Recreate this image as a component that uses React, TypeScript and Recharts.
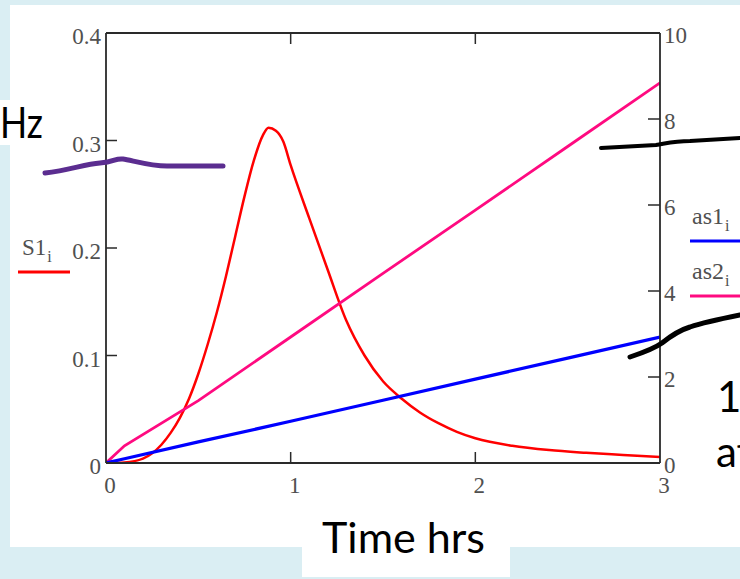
import React from 'react';
import { LineChart, Line, XAxis, YAxis } from 'recharts';

// ---- data ----
const S1_TIME = [0, 0.1, 0.2, 0.25, 0.3, 0.35, 0.4, 0.45, 0.5, 0.55, 0.6, 0.65, 0.7, 0.75, 0.8, 0.85, 0.88, 0.92, 0.96, 1.0, 1.1, 1.2, 1.3, 1.4, 1.5, 1.6, 1.7, 1.8, 1.9, 2.0, 2.2, 2.4, 2.6, 2.8, 3.0];
const S1_VALUES = [0, 0.0005, 0.004, 0.009, 0.017, 0.028, 0.042, 0.06, 0.083, 0.11, 0.14, 0.174, 0.211, 0.248, 0.281, 0.305, 0.3118, 0.309, 0.299, 0.277, 0.228, 0.18, 0.133, 0.1, 0.076, 0.06, 0.047, 0.037, 0.029, 0.023, 0.016, 0.012, 0.0095, 0.0075, 0.0055];

const AS_TIME = [0, 0.1, 0.5, 1.0, 1.5, 2.0, 2.5, 3.0];
const AS1_VALUES = [0, 0.1, 0.49, 0.97, 1.46, 1.95, 2.44, 2.93];
const AS2_VALUES = [0, 0.4, 1.45, 2.93, 4.41, 5.88, 7.36, 8.84];

const X_TICKS = [0, 1, 2, 3];
const LEFT_TICKS = [0, 0.1, 0.2, 0.3, 0.4];
const RIGHT_TICKS = [0, 2, 4, 6, 8, 10];

const X_LABEL = 'Time hrs';
const LEFT_LEGEND = 'S1';
const RIGHT_LEGEND_1 = 'as1';
const RIGHT_LEGEND_2 = 'as2';
const SUBSCRIPT = 'i';

const s1Data = S1_TIME.map((t, i) => ({ t, v: S1_VALUES[i] }));
const as1Data = AS_TIME.map((t, i) => ({ t, v: AS1_VALUES[i] }));
const as2Data = AS_TIME.map((t, i) => ({ t, v: AS2_VALUES[i] }));

// ---- styles ----
const SERIF = '"Liberation Serif", "Times New Roman", serif';
const SANS = 'Lato, "Open Sans", sans-serif';
const LABEL_COLOR = '#505050';
const AXIS_COLOR = '#2a2a2a';
const RED = '#ff0000';
const BLUE = '#0000ff';
const PINK = '#ff0a80';
const TICK_FS = 23;

const isEnd = (v: number, arr: number[]) => v === arr[0] || v === arr[arr.length - 1];

const LeftTick = (props: any) => {
  const { x, y, payload } = props;
  const v = payload.value;
  return (
    <g>
      {!isEnd(v, LEFT_TICKS) && <line x1={x} x2={x + 11} y1={y} y2={y} stroke={AXIS_COLOR} strokeWidth={1.5} />}
      <text x={x - 5} y={y + 11} textAnchor="end" fontFamily={SERIF} fontSize={TICK_FS} fill={LABEL_COLOR}>{String(v)}</text>
    </g>
  );
};

const RightTick = (props: any) => {
  const { x, y, payload } = props;
  const v = payload.value;
  return (
    <g>
      {!isEnd(v, RIGHT_TICKS) && <line x1={x - 12} x2={x} y1={y} y2={y} stroke={AXIS_COLOR} strokeWidth={1.5} />}
      <text x={x + 4} y={y + 10} textAnchor="start" fontFamily={SERIF} fontSize={TICK_FS} fill={LABEL_COLOR}>{String(v)}</text>
    </g>
  );
};

const BottomTick = (props: any) => {
  const { x, y, payload } = props;
  const v = payload.value;
  return (
    <g>
      {!isEnd(v, X_TICKS) && <line x1={x} x2={x} y1={y} y2={y - 11} stroke={AXIS_COLOR} strokeWidth={1.5} />}
      <text x={x + 4} y={y + 30} textAnchor="middle" fontFamily={SERIF} fontSize={TICK_FS} fill={LABEL_COLOR}>{String(v)}</text>
    </g>
  );
};

const TopTick = (props: any) => {
  const { x, y, payload } = props;
  const v = payload.value;
  return (
    <g>
      {!isEnd(v, X_TICKS) && <line x1={x} x2={x} y1={y} y2={y + 11} stroke={AXIS_COLOR} strokeWidth={1.5} />}
    </g>
  );
};

export default function App() {
  return (
    <div style={{ position: 'absolute', left: 0, top: 0, width: 740, height: 579, background: '#daeef3', overflow: 'hidden' }}>
      <div style={{ position: 'absolute', left: 10, top: 5, width: 730, height: 542, background: '#ffffff' }} />
      <div style={{ position: 'absolute', left: 302, top: 547, width: 208, height: 30, background: '#ffffff' }} />
      <div style={{ position: 'absolute', left: 0, top: 100, width: 46, height: 45, background: '#ffffff' }} />
      <div style={{ position: 'absolute', left: 0, top: 0 }}>
        <LineChart width={740} height={579} margin={{ top: 32, right: 0, bottom: 76, left: 0 }}>
          <XAxis
            xAxisId="b"
            dataKey="t"
            type="number"
            domain={[0, 3]}
            ticks={X_TICKS}
            allowDataOverflow
            height={40}
            tickSize={0}
            tickMargin={0}
            tickLine={false}
            axisLine={{ stroke: AXIS_COLOR, strokeWidth: 1.8 }}
            tick={<BottomTick />}
            interval={0}
          />
          <XAxis
            xAxisId="top"
            orientation="top"
            dataKey="t"
            type="number"
            domain={[0, 3]}
            ticks={X_TICKS}
            allowDataOverflow
            height={1}
            tickSize={0}
            tickMargin={0}
            tickLine={false}
            axisLine={{ stroke: AXIS_COLOR, strokeWidth: 1.8 }}
            tick={<TopTick />}
            interval={0}
          />
          <YAxis
            yAxisId="l"
            width={106}
            type="number"
            domain={[0, 0.4]}
            ticks={LEFT_TICKS}
            allowDataOverflow
            tickSize={0}
            tickMargin={0}
            tickLine={false}
            axisLine={{ stroke: AXIS_COLOR, strokeWidth: 1.8 }}
            tick={<LeftTick />}
            interval={0}
          />
          <YAxis
            yAxisId="r"
            orientation="right"
            width={80}
            type="number"
            domain={[0, 10]}
            ticks={RIGHT_TICKS}
            allowDataOverflow
            tickSize={0}
            tickMargin={0}
            tickLine={false}
            axisLine={{ stroke: AXIS_COLOR, strokeWidth: 1.8 }}
            tick={<RightTick />}
            interval={0}
          />
          <Line xAxisId="b" yAxisId="l" data={s1Data} dataKey="v" type="monotone" stroke={RED} strokeWidth={2.5} dot={false} isAnimationActive={false} />
          <Line xAxisId="b" yAxisId="r" data={as2Data} dataKey="v" type="linear" stroke={PINK} strokeWidth={2.8} dot={false} isAnimationActive={false} />
          <Line xAxisId="b" yAxisId="r" data={as1Data} dataKey="v" type="linear" stroke={BLUE} strokeWidth={3.2} dot={false} isAnimationActive={false} />
        </LineChart>
      </div>
      <svg width={740} height={579} style={{ position: 'absolute', left: 0, top: 0, pointerEvents: 'none' }}>
        {/* legend, left */}
        <text x={22} y={255} fontFamily={SERIF} fontSize={23} fill={LABEL_COLOR}>
          {LEFT_LEGEND}
          <tspan dx={1} dy={7} fontSize={16}>{SUBSCRIPT}</tspan>
        </text>
        <line x1={18} x2={70} y1={272} y2={272} stroke={RED} strokeWidth={3} />
        {/* legend, right */}
        <text x={692} y={224} fontFamily={SERIF} fontSize={24} fill={LABEL_COLOR}>
          {RIGHT_LEGEND_1}
          <tspan dx={1} dy={7} fontSize={16}>{SUBSCRIPT}</tspan>
        </text>
        <line x1={690} x2={740} y1={241} y2={241} stroke={BLUE} strokeWidth={3} />
        <text x={692} y={279} fontFamily={SERIF} fontSize={24} fill={LABEL_COLOR}>
          {RIGHT_LEGEND_2}
          <tspan dx={1} dy={7} fontSize={16}>{SUBSCRIPT}</tspan>
        </text>
        <line x1={690} x2={740} y1={296} y2={296} stroke={PINK} strokeWidth={3} />
        {/* annotations */}
        <text x={0} y={138} textLength={43} lengthAdjust="spacingAndGlyphs" fontFamily={SANS} fontSize={42} fill="#000">Hz</text>
        <path d="M45,173 C70,170 85,164 100,163 S115,158 123,159 S150,166 167,166 L223,166" fill="none" stroke="#5b2d90" strokeWidth={5} strokeLinecap="round" />
        <path d="M601,148 L656,145 C668,143 675,141 690,141 L740,138" fill="none" stroke="#000" strokeWidth={4} strokeLinecap="round" />
        <path d="M630,357 C645,352 655,348 662,343 C672,335 680,330 690,327 C705,322 720,319 740,315" fill="none" stroke="#000" strokeWidth={5} strokeLinecap="round" />
        <text x={717} y={412} fontFamily={SANS} fontSize={42} fill="#000">1</text>
        <text x={716} y={467} fontFamily={SANS} fontSize={42} fill="#000">at</text>
        <text x={322} y={553} textLength={163} lengthAdjust="spacingAndGlyphs" fontFamily={SANS} fontSize={42} fill="#000">{X_LABEL}</text>
      </svg>
    </div>
  );
}
